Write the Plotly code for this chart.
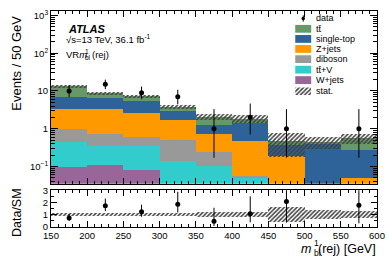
import numpy as np
import plotly.graph_objects as go

# ---------------- data ----------------
bin_centers = [175, 225, 275, 325, 375, 425, 475, 525, 575]
bin_width = 50

w_jets     = [0.099, 0.107, 0.079, 0.0, 0.0, 0.0, 0.0, 0.0, 0.0]
ttv        = [0.337, 0.250, 0.278, 0.138, 0.105, 0.048, 0.0, 0.0, 0.0]
diboson    = [0.564, 0.357, 0.229, 0.362, 0.135, 0.007, 0.0, 0.0, 0.0]
z_jets     = [2.28, 2.57, 2.10, 1.18, 0.474, 0.405, 0.19, 0.0, 0.048]
single_top = [3.69, 3.12, 2.68, 1.35, 0.576, 0.97, 0.175, 0.40, 0.218]
ttbar      = [6.6, 2.2, 1.83, 0.72, 0.81, 0.42, 0.115, 0.04, 0.30]
stat_rel   = [0.09, 0.10, 0.10, 0.12, 0.20, 0.22, 0.63, 0.33, 0.31]

data       = [10, 15, 9, 7, 1, 2, 1, None, 1]
data_up    = [4.28, 4.97, 4.12, 3.78, 2.30, 2.64, 2.30, None, 2.30]
data_dn    = [3.11, 3.84, 2.94, 2.58, 0.83, 1.29, 0.83, None, 0.83]

x_ticks = [150, 200, 250, 300, 350, 400, 450, 500, 550, 600]
y_ticks = [0.1, 1, 10, 100, 1000]
y_tick_text = ["10<sup>\u22121</sup>", "1", "10", "10<sup>2</sup>", "10<sup>3</sup>"]

samples = [  # drawn bottom to top
    ("W+jets", w_jets, "#996699"),
    ("t<span>t\u0304</span>+V", ttv, "#33cccc"),
    ("diboson", diboson, "#999999"),
    ("Z+jets", z_jets, "#ff9900"),
    ("single-top", single_top, "#2e6399"),
    ("t<span>t\u0304</span>", ttbar, "#669966"),
]

FONT = "Liberation Sans, Arial, sans-serif"
W, H = 390, 265
ML, MR, MT, MB = 51, 12, 5, 38
PW, PH = W - ML - MR, H - MT - MB


def px(x):
    return (x - ML) / PW


def py(y):
    return (H - MB - y) / PH


total = np.sum([np.array(s[1]) for s in samples], axis=0)
stat = total * np.array(stat_rel)
d = np.array([np.nan if v is None else v for v in data], dtype=float)
du = np.array([np.nan if v is None else v for v in data_up], dtype=float)
dd = np.array([np.nan if v is None else v for v in data_dn], dtype=float)

fig = go.Figure()

for name, vals, col in samples:
    fig.add_trace(go.Bar(x=bin_centers, y=vals, width=bin_width, name=name,
                         marker=dict(color=col, line=dict(width=0)),
                         xaxis="x", yaxis="y", showlegend=False))

hatch = dict(shape="/", fgcolor="#404040", fgopacity=1, bgcolor="rgba(0,0,0,0)",
             size=3, solidity=0.5, fillmode="overlay")

fig.add_trace(go.Bar(x=bin_centers, y=2 * stat, base=total - stat, width=bin_width,
                     marker=dict(color="rgba(0,0,0,0)", line=dict(width=0), pattern=hatch),
                     xaxis="x", yaxis="y", showlegend=False))

fig.add_trace(go.Scatter(x=bin_centers, y=d, mode="markers",
                         marker=dict(color="black", size=5),
                         error_y=dict(type="data", symmetric=False, array=du, arrayminus=dd,
                                      color="black", thickness=1, width=0),
                         xaxis="x", yaxis="y", showlegend=False))

# ratio panel
rel = np.array(stat_rel)
fig.add_trace(go.Bar(x=bin_centers, y=2 * rel, base=1 - rel, width=bin_width,
                     marker=dict(color="rgba(0,0,0,0)", line=dict(width=0), pattern=hatch),
                     xaxis="x2", yaxis="y2", showlegend=False))
fig.add_trace(go.Scatter(x=bin_centers, y=d / total, mode="markers",
                         marker=dict(color="black", size=5),
                         error_y=dict(type="data", symmetric=False, array=du / total,
                                      arrayminus=dd / total, color="black", thickness=1, width=0),
                         xaxis="x2", yaxis="y2", showlegend=False))

# stat swatch for legend (tiny axis)
fig.add_trace(go.Bar(x=[0], y=[1], width=1,
                     marker=dict(color="rgba(0,0,0,0)", line=dict(width=0), pattern=hatch),
                     xaxis="x3", yaxis="y3", showlegend=False))

minor_log = [k * 10.0 ** e for e in range(-2, 4) for k in range(2, 10)]

ax_common = dict(showline=True, linecolor="black", linewidth=1, mirror="allticks",
                 ticks="inside", tickcolor="black", showgrid=False, zeroline=False,
                 tickfont=dict(family=FONT, size=9.5, color="black"))

fig.update_layout(
    width=W, height=H,
    margin=dict(l=ML, r=MR, t=MT, b=MB),
    paper_bgcolor="white", plot_bgcolor="white",
    barmode="stack", bargap=0,
    font=dict(family=FONT, color="black"),
    xaxis=dict(domain=[0, 1], range=[150, 600], anchor="y", showticklabels=False,
               tickvals=x_ticks, ticklen=6,
               minor=dict(dtick=10, tick0=150, ticks="inside", ticklen=3, tickcolor="black"),
               **ax_common),
    yaxis=dict(domain=[0.2, 1], type="log", range=[-1.46, 3.12], anchor="x",
               tickvals=y_ticks, ticktext=y_tick_text, ticklen=7,
               minor=dict(tickvals=minor_log, ticks="inside", ticklen=4, tickcolor="black"),
               **ax_common),
    xaxis2=dict(domain=[0, 1], range=[150, 600], anchor="y2",
                tickvals=x_ticks, ticklen=6,
                minor=dict(dtick=10, tick0=150, ticks="inside", ticklen=3, tickcolor="black"),
                **ax_common),
    yaxis2=dict(domain=[0, 0.17], range=[0, 3], anchor="x2", tickvals=[0, 1, 2, 3], ticklen=6,
                minor=dict(dtick=0.5, ticks="inside", ticklen=3, tickcolor="black"),
                **ax_common),
    xaxis3=dict(domain=[px(296), px(312)], range=[-0.5, 0.5], visible=False, anchor="y3"),
    yaxis3=dict(domain=[py(91.5), py(83.5)], range=[0, 1], visible=False, anchor="x3"),
)

ann = []


def text(x, y, s, size, xanchor="left", angle=0, yanchor="middle"):
    ann.append(dict(x=px(x), y=py(y), xref="paper", yref="paper", text=s, showarrow=False,
                    xanchor=xanchor, yanchor=yanchor, textangle=angle,
                    font=dict(family=FONT, size=size, color="black")))


# axis titles
text(16, 59, "Events / 50 GeV", 13, xanchor="center", angle=-90)
text(17.5, 212, "Data/SM", 12.5, xanchor="center", angle=-90)
text(379, 249.5, "(rej) [GeV]", 12.5, xanchor="right")
text(313.5, 250, "<i>m</i>", 12.5, xanchor="right")
text(313, 243, "1", 8.5)
text(312.8, 253.5, "bl", 8.5)

# ATLAS labels
text(66, 23, "<b><i>ATLAS</i></b>", 11)
text(64, 34, "\u221As=13 TeV, 36.1 fb<sup>-1</sup>", 9.5)
text(64, 50, "VR<i>m</i>", 9.5)
text(83.5, 46.5, "1", 6.5)
text(83.3, 53, "bl", 6.5)
text(90.5, 50, "(rej)", 9.5)

# legend
shapes = []
rows_y = [12.7, 23.3, 33.7, 44.0, 54.5, 65.3, 76.0, 87.3]
leg = [("data", None)] + [(n, c) for n, v, c in samples[::-1]] + [("stat.", "hatch")]
for (name, col), yy in zip(leg, rows_y):
    text(315, yy, name, 9)
    if col is None:
        shapes.append(dict(type="line", xref="paper", yref="paper",
                           x0=px(304), x1=px(304), y0=py(yy - 3.2), y1=py(yy + 3.2),
                           line=dict(color="black", width=1)))
        shapes.append(dict(type="circle", xref="paper", yref="paper",
                           x0=px(302.2), x1=px(305.8), y0=py(yy + 1.8), y1=py(yy - 1.8),
                           fillcolor="black", line=dict(color="black", width=0)))
    elif col != "hatch":
        shapes.append(dict(type="rect", xref="paper", yref="paper",
                           x0=px(296), x1=px(312), y0=py(yy + 4), y1=py(yy - 4),
                           fillcolor=col, line=dict(width=0)))

fig.update_layout(annotations=ann, shapes=shapes)
fig.write_html("out.html", config={"displayModeBar": False},
               post_script="document.body.style.margin='0px';")
